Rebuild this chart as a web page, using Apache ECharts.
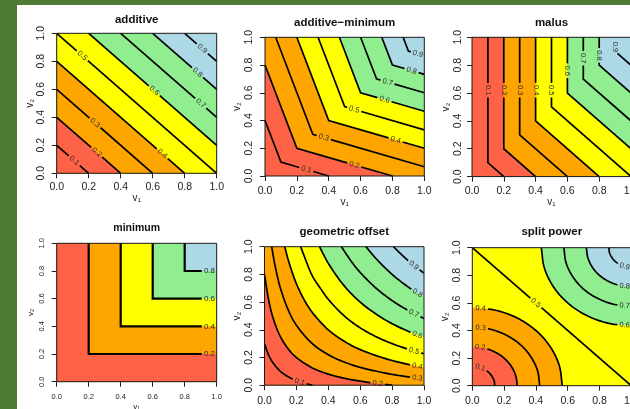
<!DOCTYPE html>
<html><head><meta charset="utf-8">
<script src="https://cdn.jsdelivr.net/npm/echarts@6.0.0/dist/echarts.min.js"></script>
<style>
html,body{margin:0;padding:0;width:630px;height:409px;overflow:hidden;background:#4f7b35;}
#paper{position:absolute;left:17px;top:5px;width:613px;height:404px;background:#fff;}
#chart{position:absolute;left:0;top:0;width:630px;height:409px;}
</style></head><body><div id="paper"></div><div id="chart"></div>
<script>
// ---------- data ----------
const panelTitles = ['additive', 'additive\u2212minimum', 'malus', 'minimum', 'geometric offset', 'split power'];
const axisNames = ['v\u2081', 'v\u2082'];
const tickLabels = ['0.0', '0.2', '0.4', '0.6', '0.8', '1.0'];
const allLevels = [0.1, 0.2, 0.3, 0.4, 0.5, 0.6, 0.7, 0.8, 0.9];
const evenLevels = [0.2, 0.4, 0.6, 0.8];
const bandEdges = [0.2, 0.4, 0.6, 0.8];
const bandColors = ['#ff6347', '#ffa500', '#ffff00', '#90ee90', '#add8e6'];

const additiveLines = [
  [[0, 0.2], [0.2, 0]], [[0, 0.4], [0.4, 0]], [[0, 0.6], [0.6, 0]], [[0, 0.8], [0.8, 0]],
  [[0, 1], [1, 0]], [[0.2, 1], [1, 0.2]], [[0.4, 1], [1, 0.4]], [[0.6, 1], [1, 0.6]], [[0.8, 1], [1, 0.8]]
];
const additiveLabels = [[0.11, 0.09], [0.25, 0.15], [0.24, 0.36], [0.66, 0.14], [0.16, 0.84], [0.61, 0.59], [0.9, 0.5], [0.88, 0.72], [0.91, 0.89]];

const addMinLines = [
  [[0, 0.4], [0.1, 0.1], [0.4, 0]], [[0, 0.8], [0.2, 0.2], [0.8, 0]],
  [[0.067, 1], [0.3, 0.3], [1, 0.067]], [[0.2, 1], [0.4, 0.4], [1, 0.2]],
  [[0.333, 1], [0.5, 0.5], [1, 0.333]], [[0.467, 1], [0.6, 0.6], [1, 0.467]],
  [[0.6, 1], [0.7, 0.7], [1, 0.6]], [[0.733, 1], [0.8, 0.8], [1, 0.733]], [[0.867, 1], [0.9, 0.9], [1, 0.867]]
];
const addMinLabels = [[0.26, 0.05], [0.56, 0.08], [0.37, 0.28], [0.82, 0.26], [0.56, 0.48], [0.75, 0.55], [0.77, 0.68], [0.92, 0.76], [0.96, 0.88]];

const malusLines = [
  [[0.1, 1], [0.1, 0.1], [0.2, 0]], [[0.2, 1], [0.2, 0.2], [0.4, 0]], [[0.3, 1], [0.3, 0.3], [0.6, 0]],
  [[0.4, 1], [0.4, 0.4], [0.8, 0]], [[0.5, 1], [0.5, 0.5], [1, 0]], [[0.6, 1], [0.6, 0.6], [1, 0.2]],
  [[0.7, 1], [0.7, 0.7], [1, 0.4]], [[0.8, 1], [0.8, 0.8], [1, 0.6]], [[0.9, 1], [0.9, 0.9], [1, 0.8]]
];
const malusLabels = [[0.1, 0.62], [0.2, 0.62], [0.3, 0.62], [0.4, 0.62], [0.5, 0.62], [0.6, 0.76], [0.7, 0.85], [0.8, 0.87], [0.9, 0.93]];

const minimumLines = [
  [[0.2, 1], [0.2, 0.2], [1, 0.2]], [[0.4, 1], [0.4, 0.4], [1, 0.4]],
  [[0.6, 1], [0.6, 0.6], [1, 0.6]], [[0.8, 1], [0.8, 0.8], [1, 0.8]]
];
const minimumLabels = [[0.955, 0.2], [0.955, 0.4], [0.955, 0.6], [0.955, 0.8]];

const geoLines = [
  [[0, 0.3], [0.02, 0.233], [0.05, 0.167], [0.1, 0.1], [0.15, 0.06], [0.2, 0.033], [0.25, 0.014], [0.3, 0]],
  [[0, 0.8], [0.03, 0.592], [0.06, 0.463], [0.1, 0.35], [0.15, 0.26], [0.2, 0.2], [0.3, 0.125], [0.4, 0.08], [0.5, 0.05], [0.6, 0.029], [0.7, 0.013], [0.8, 0]],
  [[0.045, 1], [0.06, 0.9], [0.08, 0.789], [0.1, 0.7], [0.15, 0.54], [0.2, 0.433], [0.3, 0.3], [0.4, 0.22], [0.5, 0.167], [0.6, 0.129], [0.8, 0.078], [1, 0.045]],
  [[0.127, 1], [0.15, 0.9], [0.2, 0.733], [0.25, 0.614], [0.3, 0.525], [0.4, 0.4], [0.5, 0.317], [0.6, 0.257], [0.8, 0.178], [1, 0.127]],
  [[0.227, 1], [0.25, 0.929], [0.3, 0.789], [0.35, 0.7], [0.4, 0.62], [0.5, 0.5], [0.6, 0.414], [0.7, 0.35], [0.8, 0.3], [0.9, 0.26], [1, 0.227]],
  [[0.345, 1], [0.4, 0.88], [0.5, 0.717], [0.6, 0.6], [0.7, 0.513], [0.8, 0.444], [0.9, 0.39], [1, 0.345]],
  [[0.482, 1], [0.55, 0.885], [0.6, 0.814], [0.7, 0.7], [0.8, 0.611], [0.9, 0.54], [1, 0.482]],
  [[0.636, 1], [0.7, 0.913], [0.8, 0.8], [0.9, 0.71], [1, 0.636]],
  [[0.809, 1], [0.85, 0.953], [0.9, 0.9], [0.95, 0.852], [1, 0.809]]
];
const geoLabels = [[0.22, 0.024], [0.71, 0.013], [0.958, 0.05], [0.958, 0.135], [0.937, 0.245], [0.958, 0.363], [0.937, 0.52], [0.958, 0.662], [0.937, 0.867]];

const splitLines = [
  [[0, 0.141], [0.037, 0.137], [0.071, 0.122], [0.1, 0.1], [0.122, 0.071], [0.137, 0.037], [0.141, 0]],
  [[0, 0.283], [0.073, 0.273], [0.141, 0.245], [0.2, 0.2], [0.245, 0.141], [0.273, 0.073], [0.283, 0]],
  [[0, 0.424], [0.11, 0.41], [0.212, 0.367], [0.3, 0.3], [0.367, 0.212], [0.41, 0.11], [0.424, 0]],
  [[0, 0.566], [0.146, 0.547], [0.283, 0.49], [0.4, 0.4], [0.49, 0.283], [0.547, 0.146], [0.566, 0]],
  [[0, 1], [1, 0]],
  [[0.434, 1], [0.453, 0.854], [0.51, 0.717], [0.6, 0.6], [0.717, 0.51], [0.854, 0.453], [1, 0.434]],
  [[0.576, 1], [0.59, 0.89], [0.633, 0.788], [0.7, 0.7], [0.788, 0.633], [0.89, 0.59], [1, 0.576]],
  [[0.717, 1], [0.727, 0.927], [0.755, 0.859], [0.8, 0.8], [0.859, 0.755], [0.927, 0.727], [1, 0.717]],
  [[0.859, 1], [0.863, 0.963], [0.878, 0.929], [0.9, 0.9], [0.929, 0.878], [0.963, 0.863], [1, 0.859]]
];
const splitLabels = [[0.05, 0.132], [0.05, 0.279], [0.053, 0.42], [0.053, 0.563], [0.4, 0.6], [0.958, 0.436], [0.958, 0.578], [0.958, 0.72], [0.958, 0.865]];

const panels = [
  { title: panelTitles[0], levels: allLevels, lines: additiveLines, labels: additiveLabels, smooth: false },
  { title: panelTitles[1], levels: allLevels, lines: addMinLines, labels: addMinLabels, smooth: false },
  { title: panelTitles[2], levels: allLevels, lines: malusLines, labels: malusLabels, smooth: false },
  { title: panelTitles[3], levels: evenLevels, lines: minimumLines, labels: minimumLabels, smooth: false },
  { title: panelTitles[4], levels: allLevels, lines: geoLines, labels: geoLabels, smooth: true },
  { title: panelTitles[5], levels: allLevels, lines: splitLines, labels: splitLabels, smooth: true }
];

// ---------- layout / style ----------
const FONT = '"Liberation Sans", Arial, sans-serif';
const layout = [
  { box: [56.7, 33.3, 160, 140], title: [136.7, 19.5], ts: 11.5, tick: 10.5, xm: 8.3, ym: 10, xng: 17, yng: 20, ns: 10, lw: 1.7, lab: 7.5 },
  { box: [265, 37.3, 159.3, 138.7], title: [344.7, 22.7], ts: 11.5, tick: 10.5, xm: 9.2, ym: 10.5, xng: 19.5, yng: 19.5, ns: 10, lw: 1.7, lab: 7.5 },
  { box: [472, 37.3, 159, 139.3], title: [551.5, 23], ts: 11.5, tick: 10.5, xm: 9.2, ym: 8.5, xng: 19.5, yng: 20, ns: 10, lw: 1.7, lab: 7.5 },
  { box: [56.7, 243.3, 160, 138.4], title: [136.7, 228.3], ts: 10.5, tick: 7.5, xm: 11.5, ym: 11, xng: 21, yng: 21.7, ns: 8, lw: 2.2, lab: 8 },
  { box: [264.5, 246.7, 159.5, 138.5], title: [344.3, 232.3], ts: 11.5, tick: 10.5, xm: 10, ym: 10, xng: 18.5, yng: 19, ns: 10, lw: 1.7, lab: 7.5 },
  { box: [472.3, 247.7, 159, 138], title: [551.8, 232.3], ts: 11.5, tick: 10.5, xm: 10.3, ym: 9.7, xng: 18.5, yng: 18.5, ns: 10, lw: 1.7, lab: 7.5 }
];

// ---------- geometry helpers (pixel space) ----------
function crSmooth(pts, n) {
  if (pts.length < 3) return pts;
  const ext = (a, b) => [2 * a[0] - b[0], 2 * a[1] - b[1]];
  const P = [ext(pts[0], pts[1])].concat(pts, [ext(pts[pts.length - 1], pts[pts.length - 2])]);
  const d = (a, b) => Math.max(Math.sqrt(Math.hypot(b[0] - a[0], b[1] - a[1])), 1e-6);
  const out = [];
  for (let i = 1; i < P.length - 2; i++) {
    const p0 = P[i - 1], p1 = P[i], p2 = P[i + 1], p3 = P[i + 2];
    const t0 = 0, t1 = d(p0, p1), t2 = t1 + d(p1, p2), t3 = t2 + d(p2, p3);
    for (let k = 0; k < n; k++) {
      const t = t1 + (t2 - t1) * k / n;
      const lerp = (a, b, ta, tb) => { const w = (t - ta) / (tb - ta); return [a[0] + (b[0] - a[0]) * w, a[1] + (b[1] - a[1]) * w]; };
      const A1 = lerp(p0, p1, t0, t1), A2 = lerp(p1, p2, t1, t2), A3 = lerp(p2, p3, t2, t3);
      const B1 = lerp(A1, A2, t0, t2), B2 = lerp(A2, A3, t1, t3);
      out.push(lerp(B1, B2, t1, t2));
    }
  }
  out.push(pts[pts.length - 1]);
  return out;
}
function cumLen(pts) {
  const c = [0];
  for (let i = 1; i < pts.length; i++) c.push(c[i - 1] + Math.hypot(pts[i][0] - pts[i - 1][0], pts[i][1] - pts[i - 1][1]));
  return c;
}
function project(pts, p) {
  let best = { d: Infinity, s: 0, ang: 0 }, acc = 0;
  for (let i = 0; i < pts.length - 1; i++) {
    const a = pts[i], b = pts[i + 1], dx = b[0] - a[0], dy = b[1] - a[1], len = Math.hypot(dx, dy);
    if (len < 1e-9) continue;
    let t = ((p[0] - a[0]) * dx + (p[1] - a[1]) * dy) / (len * len);
    t = Math.max(0, Math.min(1, t));
    const q = [a[0] + t * dx, a[1] + t * dy], dd = Math.hypot(p[0] - q[0], p[1] - q[1]);
    if (dd < best.d) best = { d: dd, s: acc + t * len, q: q, ang: Math.atan2(-dy, dx) };
    acc += len;
  }
  return best;
}
function pointAt(pts, cum, s) {
  let i = 0;
  while (i < cum.length - 2 && cum[i + 1] < s) i++;
  const seg = cum[i + 1] - cum[i], t = seg > 0 ? (s - cum[i]) / seg : 0;
  return [pts[i][0] + t * (pts[i + 1][0] - pts[i][0]), pts[i][1] + t * (pts[i + 1][1] - pts[i][1])];
}
function pieces(pts, cuts) {
  const cum = cumLen(pts), total = cum[cum.length - 1];
  cuts.sort((a, b) => a[0] - b[0]);
  const keep = []; let start = 0;
  cuts.forEach(c => { if (c[0] > start) keep.push([start, c[0]]); start = Math.max(start, c[1]); });
  if (start < total) keep.push([start, total]);
  return keep.filter(k => k[1] - k[0] > 2.5).map(k => {
    const out = [pointAt(pts, cum, k[0])];
    for (let i = 0; i < pts.length; i++) if (cum[i] > k[0] && cum[i] < k[1]) out.push(pts[i]);
    out.push(pointAt(pts, cum, k[1]));
    return out;
  });
}

function makeRender(pi) {
  return function (params, api) {
    const P = panels[pi], L = layout[pi];
    const px = pt => api.coord(pt);
    const curves = P.lines.map(line => { const pts = line.map(px); return P.smooth ? crSmooth(pts, 10) : pts; });
    const children = [];
    const a = px([0, 0]), b = px([1, 1]);
    const rectShape = { x: a[0], y: b[1], width: b[0] - a[0], height: a[1] - b[1] };
    children.push({ type: 'rect', shape: rectShape, style: { fill: bandColors[4] } });
    for (let k = bandEdges.length - 1; k >= 0; k--) {
      const idx = P.levels.indexOf(bandEdges[k]);
      const line = P.lines[idx], s = line[0], e = line[line.length - 1];
      const poly = curves[idx].slice();
      if (e[0] >= 1 && e[1] > 0) poly.push(px([1, 0]));
      poly.push(px([0, 0]));
      if (s[1] >= 1 && s[0] > 0) poly.push(px([0, 1]));
      children.push({ type: 'polygon', shape: { points: poly }, style: { fill: bandColors[k] } });
    }
    const texts = [];
    P.levels.forEach((lv, i) => {
      const pts = curves[i];
      const pr = project(pts, px(P.labels[i]));
      const g = L.lab * 0.78 + 1.5;
      pieces(pts, [[pr.s - g, pr.s + g]]).forEach(pc => {
        children.push({ type: 'polyline', shape: { points: pc }, style: { stroke: '#000', lineWidth: L.lw, fill: 'none' } });
      });
      let deg = pr.ang * 180 / Math.PI;
      if (deg > 90.5) deg -= 180;
      if (deg < -90.5) deg += 180;
      texts.push({ type: 'text', x: pr.q[0], y: pr.q[1], rotation: deg * Math.PI / 180,
        style: { text: lv.toFixed(1), fill: '#2a2a2a', font: L.lab + 'px ' + FONT, align: 'center', verticalAlign: 'middle' } });
    });
    texts.forEach(t => children.push(t));
    children.push({ type: 'rect', shape: rectShape, style: { fill: 'none', stroke: '#1a1a1a', lineWidth: 1 } });
    return { type: 'group', children: children };
  };
}

// ---------- option ----------
const grids = [], xAxes = [], yAxes = [], series = [], graphics = [];
panels.forEach((P, i) => {
  const L = layout[i];
  grids.push({ left: L.box[0], top: L.box[1], width: L.box[2], height: L.box[3], containLabel: false, outerBoundsMode: 'none' });
  const lab = (rot, m) => ({ show: true, fontSize: L.tick, fontFamily: FONT, color: '#222', margin: m, rotate: rot,
    showMinLabel: true, showMaxLabel: true, formatter: v => tickLabels[Math.round(v / 0.2)] });
  const common = { type: 'value', gridIndex: i, min: 0, max: 1, interval: 0.2,
    axisLine: { show: false }, splitLine: { show: false },
    axisTick: { show: true, inside: false, length: 5, lineStyle: { color: '#222', width: 1 } },
    nameLocation: 'middle', nameTextStyle: { fontSize: L.ns, fontFamily: FONT, color: '#222' } };
  xAxes.push(Object.assign({}, common, { axisLabel: lab(0, L.xm), name: axisNames[0], nameGap: L.xng }));
  yAxes.push(Object.assign({}, common, { axisLabel: lab(90, L.ym), name: axisNames[1], nameGap: L.yng }));
  series.push({ type: 'custom', xAxisIndex: i, yAxisIndex: i, data: [[0, 0]], renderItem: makeRender(i), clip: false, silent: true });
  graphics.push({ type: 'text', x: L.title[0], y: L.title[1],
    style: { text: P.title, font: 'bold ' + L.ts + 'px ' + FONT, fill: '#111', align: 'center', verticalAlign: 'middle' } });
});

const chart = echarts.init(document.getElementById('chart'), null, { renderer: 'canvas' });
chart.setOption({ animation: false, grid: grids, xAxis: xAxes, yAxis: yAxes, series: series, graphic: graphics });
</script></body></html>
